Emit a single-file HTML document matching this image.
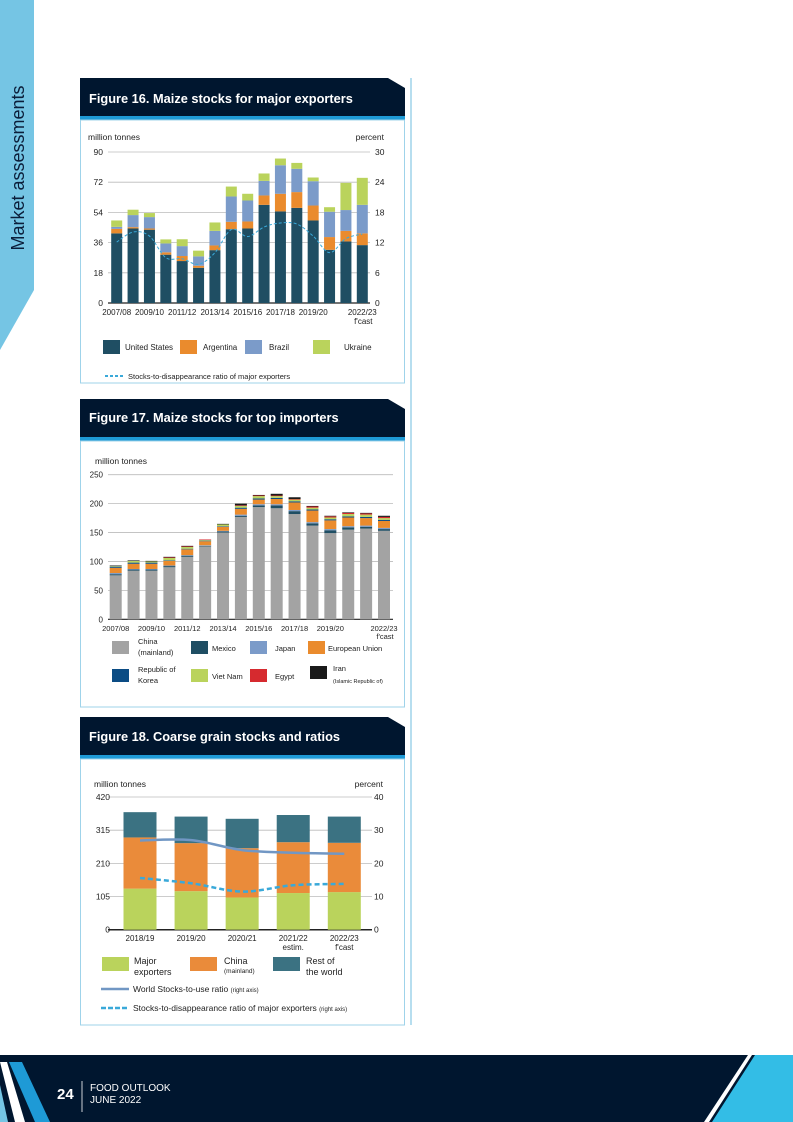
<!DOCTYPE html>
<html><head><meta charset="utf-8"><style>
html,body{margin:0;padding:0;background:#fff}
svg{display:block;font-family:"Liberation Sans",sans-serif}
</style></head><body>
<svg id="page" width="793" height="1122" viewBox="0 0 793 1122" xmlns="http://www.w3.org/2000/svg">
<polygon points="0,0 34,0 34,290 0,350" fill="#75c5e4"/>
<text x="24" y="168" transform="rotate(-90 24 168)" text-anchor="middle" font-size="18" fill="#0b1e3a">Market assessments</text>
<line x1="411" y1="78" x2="411" y2="1025" stroke="#9fd3ea" stroke-width="1.5"/>

<g>
<polygon points="80,78 388,78 405,88 405,116 80,116" fill="#00162f"/>
<rect x="80" y="116" width="325" height="4" fill="#1e9ad6"/>
<rect x="80.5" y="120" width="324" height="263" fill="none" stroke="#9fd3ea"/>
<text x="89" y="103" font-size="12.8" font-weight="bold" fill="#fff">Figure 16. Maize stocks for major exporters</text>
<text x="88" y="140" font-size="8.5" fill="#222">million tonnes</text>
<text x="384" y="140" font-size="8.5" fill="#222" text-anchor="end">percent</text>
<g id="f16"></g>
</g>

<g>
<polygon points="80,399 388,399 405,409 405,437 80,437" fill="#00162f"/>
<rect x="80" y="437" width="325" height="4" fill="#1e9ad6"/>
<rect x="80.5" y="441" width="324" height="266" fill="none" stroke="#9fd3ea"/>
<text x="89" y="422" font-size="12.8" font-weight="bold" fill="#fff">Figure 17.  Maize stocks for top importers</text>
<text x="95" y="464" font-size="8.5" fill="#222">million tonnes</text>
<g id="f17"></g>
</g>

<g>
<polygon points="80,717 388,717 405,727 405,755 80,755" fill="#00162f"/>
<rect x="80" y="755" width="325" height="4" fill="#1e9ad6"/>
<rect x="80.5" y="759" width="324" height="266" fill="none" stroke="#9fd3ea"/>
<text x="89" y="741" font-size="12.8" font-weight="bold" fill="#fff">Figure 18.   Coarse grain stocks and ratios</text>
<text x="94" y="787" font-size="8.5" fill="#222">million tonnes</text>
<text x="383" y="787" font-size="8.5" fill="#222" text-anchor="end">percent</text>
<g id="f18"></g>
</g>

<g>
<rect x="0" y="1055" width="793" height="67" fill="#00162f"/>
<polygon points="0,1062 7,1062 25,1122 15,1122" fill="#fff"/>
<polygon points="9,1062 22,1062 50,1122 35,1122" fill="#1e9ad6"/>
<polygon points="0,1085 0,1122 8,1122" fill="#75c5e4"/>
<polygon points="748,1055 752,1055 709,1122 704,1122" fill="#fff"/>
<polygon points="755,1055 793,1055 793,1122 712,1122" fill="#33bde6"/>
<text x="57" y="1099" font-size="15" font-weight="bold" fill="#fff">24</text>
<line x1="82" y1="1081" x2="82" y2="1112" stroke="#fff" stroke-width="0.8"/>
<text x="90" y="1091" font-size="10" fill="#fff">FOOD OUTLOOK</text>
<text x="90" y="1103" font-size="10" fill="#fff">JUNE 2022</text>
</g>
</svg>
<script>
// ---- Figure 16 data ----
const f16Years = ["2007/08","2008/09","2009/10","2010/11","2011/12","2012/13","2013/14","2014/15","2015/16","2016/17","2017/18","2018/19","2019/20","2020/21","2021/22","2022/23"];
const f16US = [41.5,44.4,43.7,28.8,25,21,31.5,44,44.4,58.5,54.6,56.7,49.2,31.7,36.7,34.5];
const f16Argentina = [2.7,0.8,0.7,1.4,3,1.2,2.8,4.4,4.2,5.6,10.5,9.4,8.9,7.6,6.3,7];
const f16Brazil = [1.2,7.2,6.8,5.3,5.9,5.6,8.7,15.1,12.5,8.7,17,13.9,14.5,15.1,12.4,17];
const f16Ukraine = [3.8,3.2,2.4,2.4,4.1,3.4,5,5.9,4,4.4,4,3.5,2.2,2.7,16.2,16.1];
const f16Ratio = [12.1,14.1,13.3,9,8.8,7.7,10,14.6,13.2,15.1,15.9,15.7,13.3,10,12.8,13.7];
const f16LeftTicks = [0,18,36,54,72,90];
const f16RightTicks = [0,6,12,18,24,30];
const f16XLabels = ["2007/08","","2009/10","","2011/12","","2013/14","","2015/16","","2017/18","","2019/20","","","2022/23"];

// ---- Figure 17 data ----
const f17Years = f16Years.slice();
const f17China = [76,84,84,90,108,126,150,177,194,192,182,162,149,155,157,153];
const f17Mexico = [2,2,2,2,2,1,2,2,3,5,5,4,5,4,3,3];
const f17Japan = [2,1,1,1,1,1,1,2,2,2,2,2,2,2,2,2];
const f17EU = [9,9,9,8,10,7,7,10,8,9,13,20,15,15,13,12];
const f17Korea = [2,2,2,1,1,1,1,2,2,2,2,2,2,2,2,2];
const f17VietNam = [1,3,2,4,3,1,3,3,4,3,3,3,3,4,4,3];
const f17Egypt = [0,0,0,1,1,1,0,1,1,1,1,2,2,2,2,2];
const f17Iran = [1,1,1,1,1,0,1,3,1,3,3,1,1,1,1,2];
const f17Ticks = [0,50,100,150,200,250];
const f17XLabels = ["2007/08","","2009/10","","2011/12","","2013/14","","2015/16","","2017/18","","2019/20","","","2022/23"];

// ---- Figure 18 data ----
const f18Years = ["2018/19","2019/20","2020/21","2021/22","2022/23"];
const f18Sub = ["","","","estim.","f'cast"];
const f18Exporters = [130,122,102,116,119];
const f18China = [162,152,156,161,156];
const f18Rest = [80,84,93,86,83];
const f18WorldRatio = [26.9,27,24,23.2,22.9];
const f18ExpRatio = [15.6,14,11.5,13.4,13.8];
const f18LeftTicks = [0,105,210,315,420];
const f18RightTicks = [0,10,20,30,40];

const NS = "http://www.w3.org/2000/svg";
function mk(parent, tag, attrs, txt){
  const e = document.createElementNS(NS, tag);
  for (const k in attrs) e.setAttribute(k, attrs[k]);
  if (txt !== undefined) e.textContent = txt;
  parent.appendChild(e);
  return e;
}
function smoothPath(pts){
  let d = "M" + pts[0][0] + "," + pts[0][1];
  for (let i = 0; i < pts.length - 1; i++){
    const p0 = pts[i-1] || pts[i], p1 = pts[i], p2 = pts[i+1], p3 = pts[i+2] || p2;
    const c1x = p1[0] + (p2[0]-p0[0])/6, c1y = p1[1] + (p2[1]-p0[1])/6;
    const c2x = p2[0] - (p3[0]-p1[0])/6, c2y = p2[1] - (p3[1]-p1[1])/6;
    d += " C" + c1x + "," + c1y + " " + c2x + "," + c2y + " " + p2[0] + "," + p2[1];
  }
  return d;
}

// ===== Figure 16 =====
(function(){
  const g = document.getElementById("f16");
  const y0 = 303, yTop = 152, xL = 108, xR = 370;
  const yL = v => y0 - (v/90)*(y0-yTop);
  const yR = v => y0 - (v/30)*(y0-yTop);
  const step = (362.3-116.7)/(f16Years.length-1);
  const xc = i => 116.7 + i*step;
  f16LeftTicks.forEach((t,i)=>{
    const y = yL(t);
    const l = mk(g,"line",{x1:xL,x2:xR,y1:y,y2:y,stroke:i===0?"#222":"#bbb","stroke-width":i===0?1.2:0.8});
    
    
    const tx = mk(g,"text",{x:103,y:y+3,"font-size":8.5,"text-anchor":"end",fill:"#222"},t);
    
    
  });
  f16RightTicks.forEach(t=>{
    const tx = mk(g,"text",{x:375,y:yR(t)+3,"font-size":8.5,fill:"#222"},t);
    
    
  });
  const series = [[f16US,"#1f4e63","us"],[f16Argentina,"#ea8b2d","argentina"],[f16Brazil,"#7b9bc9","brazil"],[f16Ukraine,"#bad35c","ukraine"]];
  f16Years.forEach((yr,i)=>{
    let acc = 0;
    series.forEach(([arr,col,nm])=>{
      const r = mk(g,"rect",{x:xc(i)-5.5,width:11,y:yL(acc+arr[i]),height:yL(acc)-yL(acc+arr[i]),fill:col});
      
      
      acc += arr[i];
    });
  });
  const p = mk(g,"path",{d:smoothPath(f16Ratio.map((v,i)=>[xc(i),yR(v)])),fill:"none",stroke:"#3aa9d9","stroke-width":1,"stroke-dasharray":"3,2"});
  
  
  f16XLabels.forEach((lb,i)=>{
    if(!lb) return;
    const tx = mk(g,"text",{x:xc(i),y:315,"font-size":8,"text-anchor":"middle",fill:"#222"},lb);
    
    
  });
  const fc = mk(g,"text",{x:xc(15)+1,y:324,"font-size":8,"text-anchor":"middle",fill:"#222"},"f'cast");
  
  
  const leg = [[103,125,"#1f4e63","United States"],[180,203,"#ea8b2d","Argentina"],[245,269,"#7b9bc9","Brazil"],[313,344,"#bad35c","Ukraine"]];
  leg.forEach(([sx,tx,col,lb])=>{
    const r = mk(g,"rect",{x:sx,y:340,width:17,height:14,fill:col});
    
    
    const t = mk(g,"text",{x:tx,y:350,"font-size":8,fill:"#222"},lb);
    
    
  });
  const dl = mk(g,"line",{x1:105,x2:123,y1:376,y2:376,stroke:"#3aa9d9","stroke-width":2,"stroke-dasharray":"3,2"});
  
  
  const dt = mk(g,"text",{x:128,y:379,"font-size":7.5,fill:"#222"},"Stocks-to-disappearance ratio of major exporters");
  
  
})();

// ===== Figure 17 =====
(function(){
  const g = document.getElementById("f17");
  const y0 = 619.3, yTop = 474.7, xL = 108, xR = 393;
  const yv = v => y0 - (v/250)*(y0-yTop);
  const step = (384-115.7)/(f17Years.length-1);
  const xc = i => 115.7 + i*step;
  f17Ticks.forEach((t,i)=>{
    const y = yv(t);
    const l = mk(g,"line",{x1:xL,x2:xR,y1:y,y2:y,stroke:i===0?"#222":"#bbb","stroke-width":i===0?1.2:0.8});
    
    
    const tx = mk(g,"text",{x:103,y:y+3,"font-size":8,"text-anchor":"end",fill:"#222"},t);
    
    
  });
  const series = [[f17China,"#a3a3a3","china"],[f17Mexico,"#1f4e63","mexico"],[f17Japan,"#7b9bc9","japan"],[f17EU,"#ea8b2d","eu"],[f17Korea,"#0b4c84","korea"],[f17VietNam,"#bad35c","viet-nam"],[f17Egypt,"#d62a2f","egypt"],[f17Iran,"#1a1a1a","iran"]];
  f17Years.forEach((yr,i)=>{
    let acc = 0;
    series.forEach(([arr,col,nm])=>{
      if(arr[i]<=0) return;
      const r = mk(g,"rect",{x:xc(i)-6,width:12,y:yv(acc+arr[i]),height:yv(acc)-yv(acc+arr[i]),fill:col});
      
      
      acc += arr[i];
    });
  });
  f17XLabels.forEach((lb,i)=>{
    if(!lb) return;
    const tx = mk(g,"text",{x:xc(i),y:631,"font-size":7.5,"text-anchor":"middle",fill:"#222"},lb);
    
    
  });
  const fc = mk(g,"text",{x:xc(15)+1,y:639,"font-size":7.5,"text-anchor":"middle",fill:"#222"},"f'cast");
  
  
  const leg = [
    [112,641,"#a3a3a3",138,["China","(mainland)"],7.5],
    [191,641,"#1f4e63",212,["Mexico"],7.5],
    [250,641,"#7b9bc9",275,["Japan"],7.5],
    [308,641,"#ea8b2d",328,["European Union"],7.5],
    [112,669,"#0b4c84",138,["Republic of","Korea"],7.5],
    [191,669,"#bad35c",212,["Viet Nam"],7.5],
    [250,669,"#d62a2f",275,["Egypt"],7.5],
    [310,666,"#1a1a1a",333,["Iran"],7.5]
  ];
  leg.forEach(([sx,sy,col,tx,lines,fs])=>{
    const r = mk(g,"rect",{x:sx,y:sy,width:17,height:13,fill:col});
    
    
    if(lines.length===2){
      const a = mk(g,"text",{x:tx,y:sy+3,"font-size":fs,fill:"#222"},lines[0]);
      
      
      const b = mk(g,"text",{x:tx,y:sy+14,"font-size":fs,fill:"#222"},lines[1]);
      
      
    } else {
      const a = mk(g,"text",{x:tx,y:lines[0]==="Iran"?sy+5:sy+10,"font-size":fs,fill:"#222"},lines[0]);
      
      
    }
  });
  const ir = mk(g,"text",{x:333,y:683,"font-size":5.5,fill:"#222"},"(Islamic Republic of)");
  
  
})();

// ===== Figure 18 =====
(function(){
  const g = document.getElementById("f18");
  const y0 = 929.7, yTop = 797, xL = 108, xR = 372;
  const yL = v => y0 - (v/420)*(y0-yTop);
  const yR = v => y0 - (v/40)*(y0-yTop);
  const step = (344.3-140)/(f18Years.length-1);
  const xc = i => 140 + i*step;
  f18LeftTicks.forEach((t,i)=>{
    const y = yL(t);
    const l = mk(g,"line",{x1:xL,x2:xR,y1:y,y2:y,stroke:i===0?"#222":"#bbb","stroke-width":i===0?1.5:0.8});
    
    
    const tx = mk(g,"text",{x:110,y:y+3,"font-size":8.5,"text-anchor":"end",fill:"#222"},t);
    
    
  });
  f18RightTicks.forEach(t=>{
    const tx = mk(g,"text",{x:374,y:yR(t)+3,"font-size":8.5,fill:"#222"},t);
    
    
  });
  const series = [[f18Exporters,"#bad35c","major-exporters"],[f18China,"#ea8b3a","china"],[f18Rest,"#3b7282","rest-of-world"]];
  f18Years.forEach((yr,i)=>{
    let acc = 0;
    series.forEach(([arr,col,nm])=>{
      const r = mk(g,"rect",{x:xc(i)-16.5,width:33,y:yL(acc+arr[i]),height:yL(acc)-yL(acc+arr[i]),fill:col});
      
      
      acc += arr[i];
    });
    const tx = mk(g,"text",{x:xc(i),y:941,"font-size":8,"text-anchor":"middle",fill:"#222"},yr);
    
    
    if(f18Sub[i]){
      const s = mk(g,"text",{x:xc(i),y:950,"font-size":8,"text-anchor":"middle",fill:"#222"},f18Sub[i]);
      
      
    }
  });
  const wl = mk(g,"path",{d:smoothPath(f18WorldRatio.map((v,i)=>[xc(i),yR(v)])),fill:"none",stroke:"#7197c4","stroke-width":2.5});
  
  
  const el = mk(g,"path",{d:smoothPath(f18ExpRatio.map((v,i)=>[xc(i),yR(v)])),fill:"none",stroke:"#3aa9d9","stroke-width":2.5,"stroke-dasharray":"5,3"});
  
  
  const leg = [[102,"#bad35c",134,"Major","exporters",9],[190,"#ea8b3a",224,"China","(mainland)",6.5],[273,"#3b7282",306,"Rest of","the world",9]];
  leg.forEach(([sx,col,tx,l1,l2,fs2])=>{
    const r = mk(g,"rect",{x:sx,y:957,width:27,height:14,fill:col});
    
    
    const a = mk(g,"text",{x:tx,y:964,"font-size":9,fill:"#222"},l1);
    
    
    const b = mk(g,"text",{x:tx,y:fs2<8?973:975,"font-size":fs2,fill:"#222"},l2);
    
    
  });
  const l1 = mk(g,"line",{x1:101,x2:129,y1:989,y2:989,stroke:"#7197c4","stroke-width":2.5});
  
  
  const t1 = mk(g,"text",{x:133,y:992,"font-size":8.5,fill:"#222"});
  t1.innerHTML = 'World Stocks-to-use ratio <tspan font-size="6">(right axis)</tspan>';
  
  
  const l2 = mk(g,"line",{x1:101,x2:129,y1:1008,y2:1008,stroke:"#3aa9d9","stroke-width":2.5,"stroke-dasharray":"5,2"});
  
  
  const t2 = mk(g,"text",{x:133,y:1011,"font-size":8.5,fill:"#222"});
  t2.innerHTML = 'Stocks-to-disappearance ratio of major exporters <tspan font-size="6">(right axis)</tspan>';
  
  
})();
</script>
</body></html>
